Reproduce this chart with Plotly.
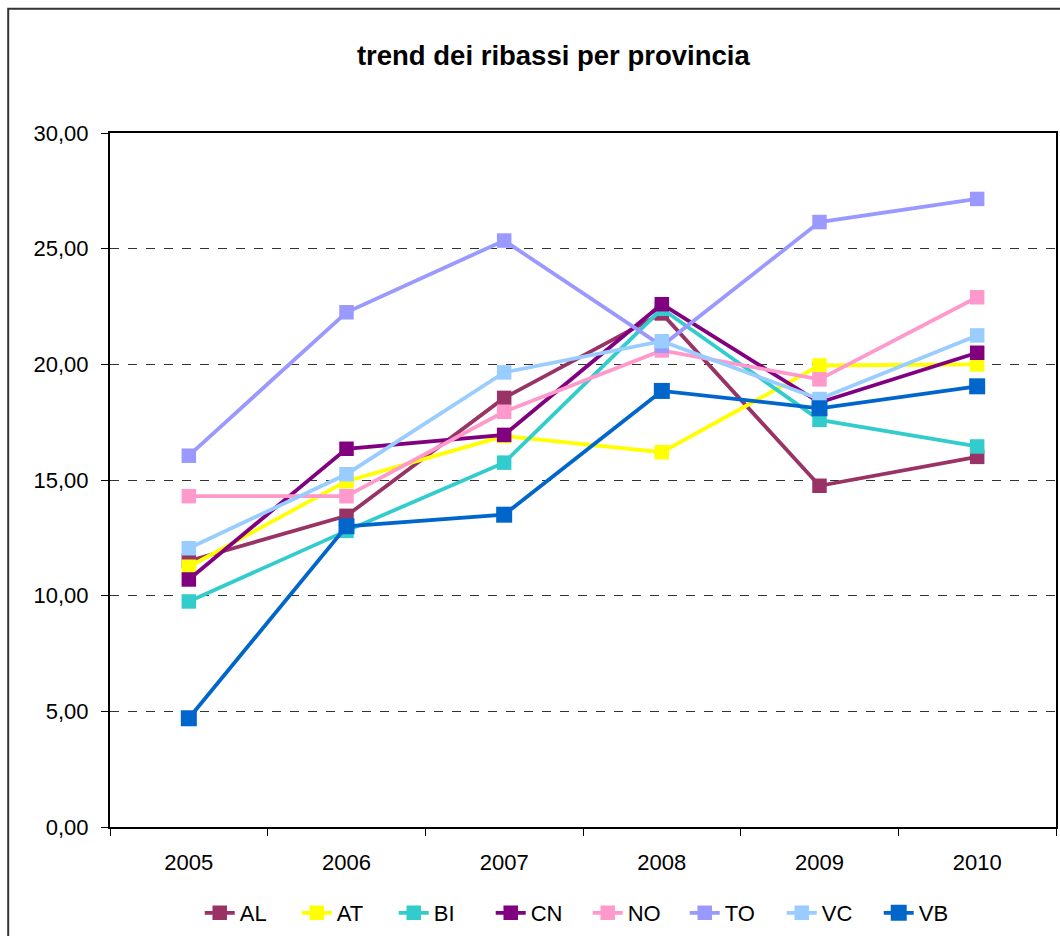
import plotly.graph_objects as go

years = ["2005", "2006", "2007", "2008", "2009", "2010"]

AL = [11.5, 13.45, 18.55, 22.2, 14.75, 16.0]
AT = [11.25, 14.95, 16.9, 16.2, 19.95, 20.0]
BI = [9.75, 12.8, 15.75, 22.4, 17.6, 16.45]
CN = [10.7, 16.35, 16.95, 22.6, 18.35, 20.5]
NO = [14.3, 14.3, 17.95, 20.6, 19.35, 22.9]
TO = [16.05, 22.25, 25.35, 20.8, 26.15, 27.15]
VC = [12.05, 15.25, 19.65, 21.0, 18.5, 21.25]
VB = [4.7, 13.0, 13.5, 18.85, 18.1, 19.05]

series = [
    ("AL", AL, "#993366"),
    ("AT", AT, "#FFFF00"),
    ("BI", BI, "#33CCCC"),
    ("CN", CN, "#800080"),
    ("NO", NO, "#FF99CC"),
    ("TO", TO, "#9999FF"),
    ("VC", VC, "#99CCFF"),
    ("VB", VB, "#0066CC"),
]

fig = go.Figure()
for name, vals, col in series:
    fig.add_trace(go.Scatter(
        x=years, y=vals, name=name, mode="lines+markers",
        line=dict(color=col, width=3.8),
        marker=dict(symbol="square", size=16 if name == "VB" else 14.5, color=col),
    ))

fig.update_layout(
    width=1060, height=936,
    paper_bgcolor="white", plot_bgcolor="white",
    font=dict(family="Liberation Sans, Arial", size=22, color="black"),
    separators=",.",
    title=dict(text="<b>trend dei ribassi per provincia</b>", x=0.522, xanchor="center",
               y=0.941, yanchor="middle", font=dict(size=27.5)),
    margin=dict(l=110, r=2, t=133, b=108),
    xaxis=dict(type="category", tickson="boundaries", ticks="outside", ticklen=7,
               tickcolor="black", showline=True, linecolor="black", linewidth=2,
               mirror=True, showgrid=False, range=[-0.5, 5.5],
               ticklabelstandoff=15, tickfont=dict(size=22)),
    yaxis=dict(range=[0, 30], dtick=5, tickformat=".2f", ticks="outside", ticklen=7,
               tickcolor="black", showline=True, linecolor="black", linewidth=2,
               mirror=True, showgrid=True, gridcolor="#333", griddash="dash",
               gridwidth=1, zeroline=False, ticklabelstandoff=8,
               tickfont=dict(size=22)),
    showlegend=True,
    legend=dict(orientation="h", x=0.505, xanchor="center", y=-0.124, yanchor="middle",
                font=dict(size=22), tracegroupgap=0, entrywidth=52,
                entrywidthmode="pixels"),
)

fig.add_shape(type="rect", xref="paper", yref="paper",
              x0=-0.1076, x1=1.2, y0=-0.4, y1=1.179,
              line=dict(color="#333", width=2), layer="below")

fig.write_html("out.html", config={"displayModeBar": False},
               post_script="document.body.style.margin='0';")
